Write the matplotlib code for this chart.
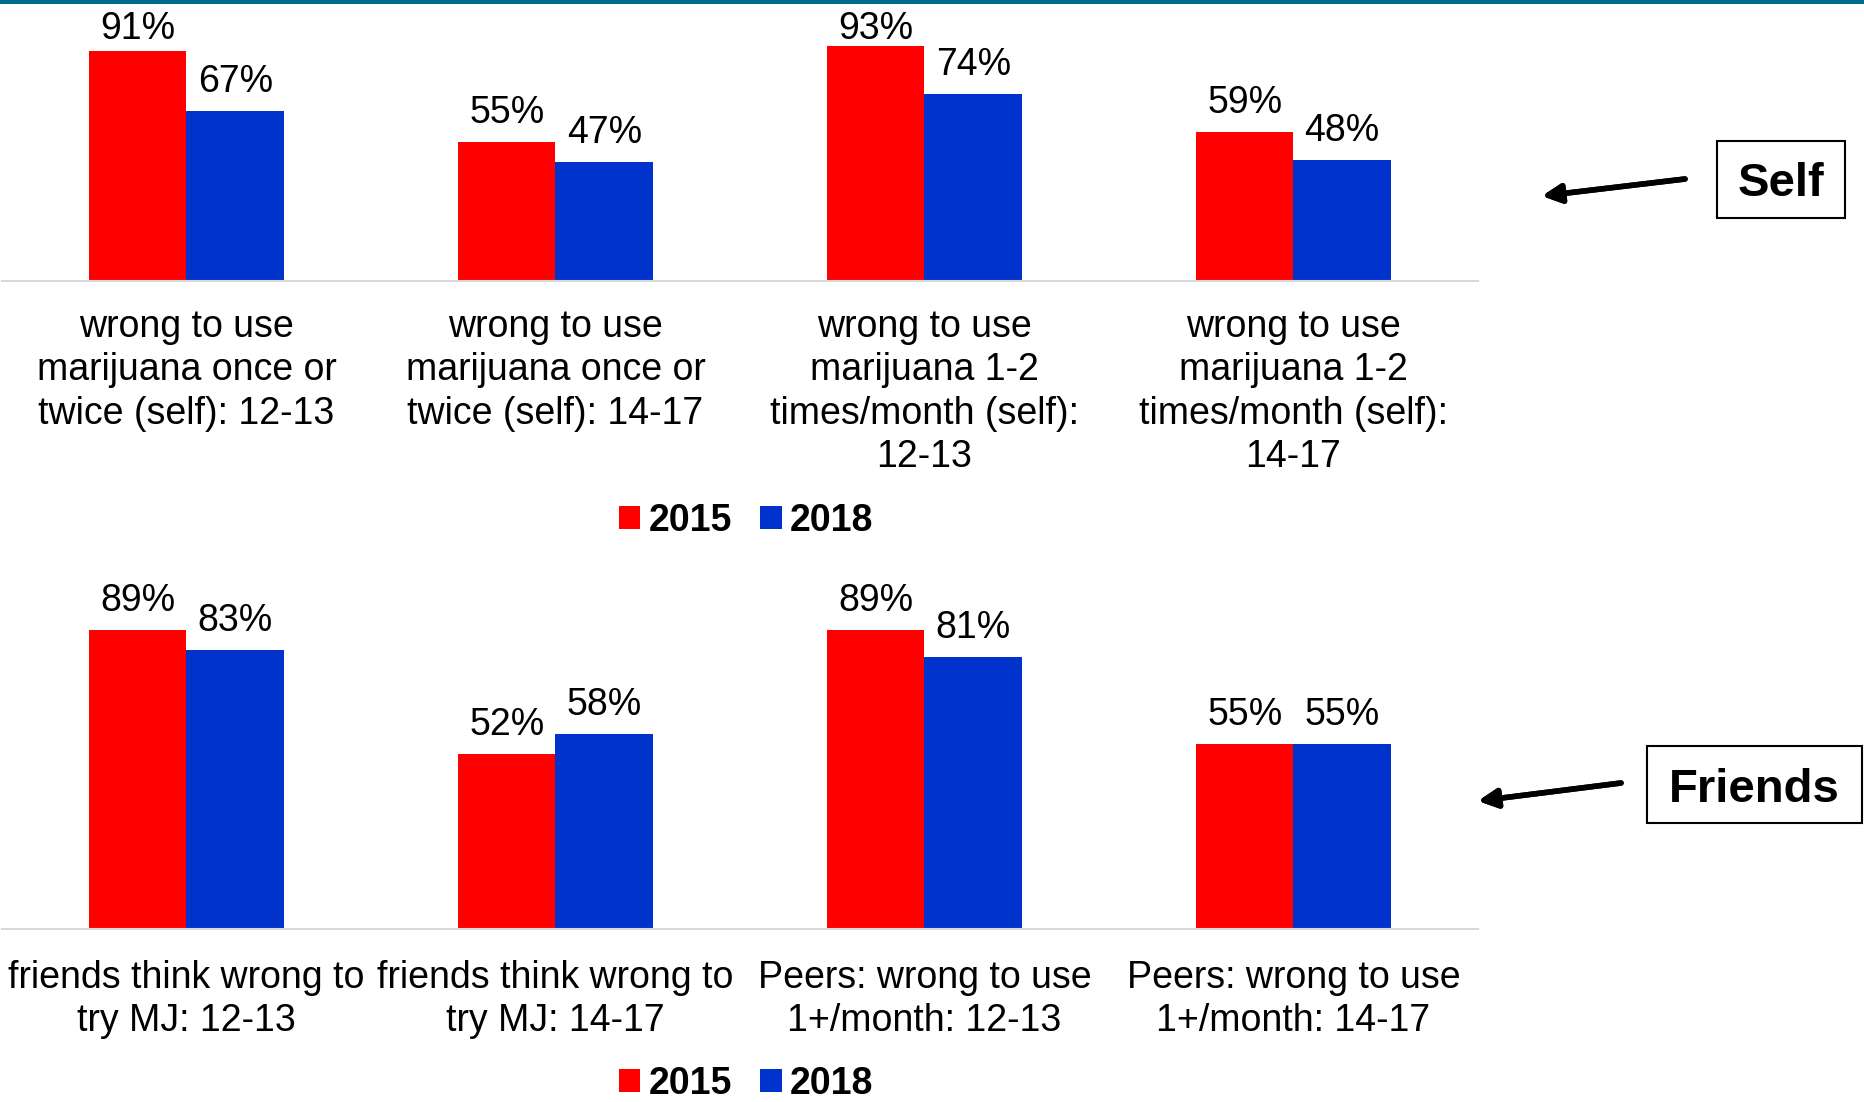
import numpy as np
import matplotlib.pyplot as plt
from matplotlib.patches import Rectangle

plt.rcParams['font.family'] = ['Liberation Sans', 'DejaVu Sans']

# Datos
cats_self = ['wrong to use\nmarijuana once or\ntwice (self): 12-13',
             'wrong to use\nmarijuana once or\ntwice (self): 14-17',
             'wrong to use\nmarijuana 1-2\ntimes/month (self):\n12-13',
             'wrong to use\nmarijuana 1-2\ntimes/month (self):\n14-17']
self_2015 = [0.91, 0.55, 0.93, 0.59]
self_2018 = [0.67, 0.47, 0.74, 0.48]

cats_friends = ['friends think wrong to\ntry MJ: 12-13',
                'friends think wrong to\ntry MJ: 14-17',
                'Peers: wrong to use\n1+/month: 12-13',
                'Peers: wrong to use\n1+/month: 14-17']
friends_2015 = [0.89, 0.52, 0.89, 0.55]
friends_2018 = [0.83, 0.58, 0.81, 0.55]

years = ['2015', '2018']
RED  = '#FF0000'
BLUE = '#0033CC'
FS   = 27

W, H = 1865, 1102
fig = plt.figure(figsize=(W/100, H/100), dpi=100)

def fx(px):
    return px / W

def fy(py):
    return 1 - py / H

def panel(base, h_px, cats, v1, v2, leg_y, pad, cap_px=None):
    ax = fig.add_axes([fx(2), fy(base), fx(1476), h_px/H])
    x  = np.arange(len(cats))
    bw = 0.264
    ax.bar(x - bw/2, v1, bw, color=RED, label=years[0])
    ax.bar(x + bw/2, v2, bw, color=BLUE, label=years[1])
    # etiquetas: ~29 px sobre la barra, sin salirse por arriba
    off = 29 / h_px
    for dx, vals in [(-bw/2, v1), (bw/2, v2)]:
        for xi, v in zip(x, vals):
            y = v + off
            if cap_px is not None:
                y = min(y, cap_px / h_px)
            ax.text(xi + dx, y, f'{round(v*100)}%', ha='center', va='center',
                    fontsize=FS, clip_on=False)
    ax.set_xlim(-0.5, len(cats) - 0.5)
    ax.set_ylim(0, 1)
    ax.set_xticks(x, cats, fontsize=FS, linespacing=1.27)
    ax.tick_params(axis='x', length=0, pad=pad)
    ax.set_yticks([])
    for s in ['top', 'left', 'right']:
        ax.spines[s].set_visible(False)
    ax.spines['bottom'].set_color('#D9D9D9')
    ax.spines['bottom'].set_linewidth(1.5)
    ax.legend(loc='center', bbox_to_anchor=(fx(746), fy(leg_y)),
              bbox_transform=fig.transFigure, ncol=2, frameon=False,
              prop={'weight': 'bold', 'size': FS},
              handlelength=0.58, handleheight=0.58, handletextpad=0.22,
              columnspacing=0.75, borderpad=0, borderaxespad=0)
    return ax

panel(281, 253, cats_self, self_2015, self_2018, 521, 20, cap_px=252)
panel(929, 336, cats_friends, friends_2015, friends_2018, 1084, 22)

# Cajas y flechas
def box(x0, y0, x1, y1, txt):
    fig.add_artist(Rectangle((fx(x0), fy(y1)), fx(x1 - x0), (y1 - y0)/H,
                             transform=fig.transFigure, fill=False,
                             ec='black', lw=1.5))
    fig.text(fx((x0 + x1)/2), fy((y0 + y1)/2 + 5), txt, ha='center', va='center',
             fontsize=34, weight='bold')

def arrow(xs, ys, xe, ye):
    fig.add_artist(plt.annotate('', xy=(fx(xe), fy(ye)), xytext=(fx(xs), fy(ys)),
                                xycoords='figure fraction', textcoords='figure fraction',
                                arrowprops=dict(arrowstyle='-|>', color='black', lw=4,
                                                mutation_scale=28, shrinkA=0, shrinkB=0)))

box(1717, 141, 1845, 218, 'Self')
box(1647, 746, 1862, 823, 'Friends')
arrow(1685, 179, 1542, 196)
arrow(1621, 783, 1478, 801)

# Linea superior
fig.add_artist(Rectangle((0, fy(3.5)), 1, 3.5/H, transform=fig.transFigure,
                         color='#00698F', lw=0))

plt.savefig('out.png')
